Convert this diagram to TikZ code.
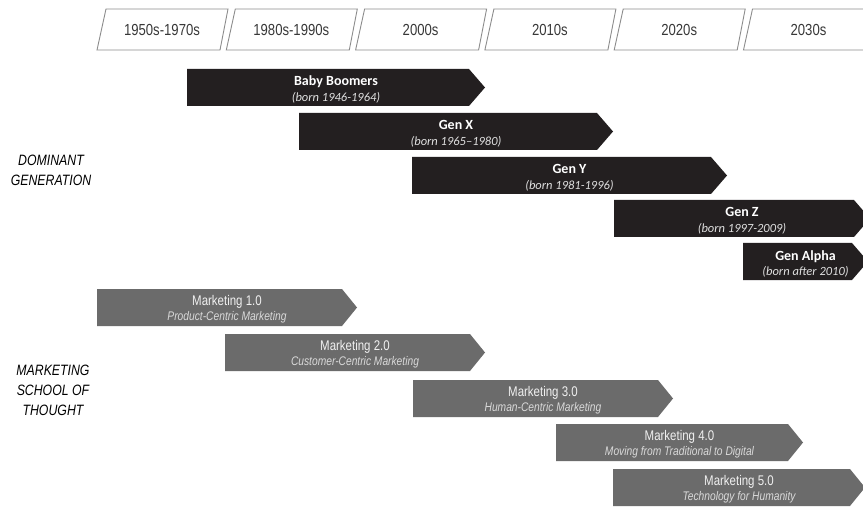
\documentclass[tikz,border=0pt]{standalone}
\usepackage{fontspec}
\usepackage{tikz}
\usetikzlibrary{positioning}
\newfontfamily\narrowfont[FakeStretch=0.82]{Liberation Sans}
\newfontfamily\genfont{Carlito}
\definecolor{genblack}{HTML}{231F20}
\definecolor{schoolgray}{HTML}{6B6B6B}
\definecolor{framegray}{HTML}{8C8C8C}
\tikzstyle{period} = [draw=framegray, line width=0.9pt, fill=white, line join=miter]
\tikzstyle{periodlabel} = [font=\narrowfont\fontsize{16}{18}\selectfont, text=black!78, anchor=base]
\tikzstyle{genname} = [font=\genfont\bfseries\fontsize{14}{16}\selectfont, text=white, anchor=base, inner sep=0pt]
\tikzstyle{genborn} = [font=\genfont\itshape\fontsize{12.5}{14}\selectfont, text=black!12, anchor=base, inner sep=0pt]
\tikzstyle{schoolname} = [font=\narrowfont\fontsize{14}{16}\selectfont, text=black!6, anchor=base, inner sep=0pt]
\tikzstyle{schooltag} = [font=\narrowfont\itshape\fontsize{12.5}{14}\selectfont, text=black!15, anchor=base, inner sep=0pt]
\tikzstyle{rowlabel} = [font=\narrowfont\itshape\fontsize{15}{20}\selectfont, text=black, align=center]

\begin{document}
\begin{tikzpicture}[x=1pt, y=-1pt]

\clip (0,0) rectangle (863,508);
\fill[white] (0,0) rectangle (863,508);

% decades along the top
\foreach \lab [count=\i from 0] in {1950s-1970s,1980s-1990s,2000s,2010s,2020s,2030s}{
  \pgfmathsetmacro{\xl}{97+129.3*\i}
  \draw[period] (\xl,50) -- (\xl+9,9) -- (\xl+131,9) -- (\xl+123,50) -- cycle;
  \node[periodlabel] (period\i) at (\xl+65,36) {\lab};
}

% generations
\foreach \gname/\gborn/\xa/\xb/\ya [count=\i] in {
    Baby Boomers/(born 1946-1964)/187/485/69,
    Gen X/(born 1965–1980)/299/613/113,
    Gen Y/(born 1981-1996)/412/727/157,
    Gen Z/(born 1997-2009)/614/870/200,
    Gen Alpha/(born after 2010)/743/868/243}{
  \fill[genblack] (\xa,\ya) -- (\xb-16,\ya) -- (\xb,\ya+18.5)
    -- (\xb-16,\ya+37) -- (\xa,\ya+37) -- cycle;
  \node[genname] (gen\i) at ({(\xa+\xb)/2},\ya+17) {\gname};
  \node[genborn] (born\i) at ({(\xa+\xb)/2},\ya+33) {\gborn};
}

% schools of thought
\foreach \mname/\mtag/\xa/\xb/\ya [count=\i] in {
    Marketing 1.0/Product-Centric Marketing/97/357/289,
    Marketing 2.0/Customer-Centric Marketing/225/485/334,
    Marketing 3.0/Human-Centric Marketing/413/673/380,
    Marketing 4.0/Moving from Traditional to Digital/556/803/424,
    Marketing 5.0/Technology for Humanity/613/865/469}{
  \fill[schoolgray] (\xa,\ya) -- (\xb-15,\ya) -- (\xb,\ya+18.5)
    -- (\xb-15,\ya+37) -- (\xa,\ya+37) -- cycle;
  \node[schoolname] (school\i) at ({(\xa+\xb)/2},\ya+16) {\mname};
  \node[schooltag] (tag\i) at ({(\xa+\xb)/2},\ya+31) {\mtag};
}

\node[rowlabel] (dominant) at (51,170) {DOMINANT\\GENERATION};
\node[rowlabel] (school) at (53,390) {MARKETING\\SCHOOL OF\\THOUGHT};

\end{tikzpicture}
\end{document}
